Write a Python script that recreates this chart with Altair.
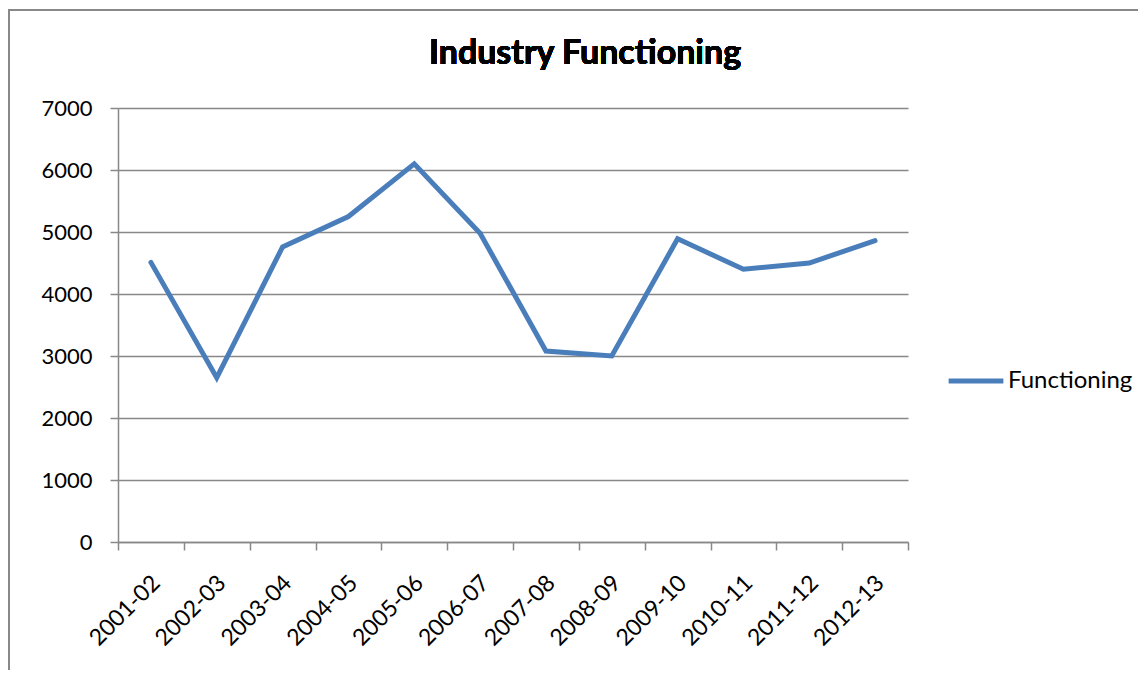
import altair as alt
import pandas as pd

years = ["2001-02", "2002-03", "2003-04", "2004-05", "2005-06", "2006-07",
         "2007-08", "2008-09", "2009-10", "2010-11", "2011-12", "2012-13"]
functioning = [4510, 2650, 4760, 5250, 6100, 4980, 3080, 3000, 4890, 4400, 4500, 4860]
title_text = "Industry Functioning"

df = pd.DataFrame({"year": years, "value": functioning, "series": ["Functioning"] * len(years)})

FONT = "Lato"
GRAY = "#888888"
BLUE = "#4a7ebb"

xscale = alt.Scale(domain=years, paddingInner=0, paddingOuter=0)

line = alt.Chart(df).mark_line(strokeWidth=5, strokeCap="round", strokeJoin="miter").encode(
    x=alt.X("year:N", sort=years, scale=xscale, title=None,
            axis=alt.Axis(orient="bottom", labelAngle=-45, labelAlign="right", labelBaseline="middle",
                          labelFont=FONT, labelFontSize=23, labelColor="#000000",
                          labelPadding=29, labelOffset=5, tickBand="extent", tickSize=8,
                          tickColor=GRAY, tickWidth=1.5, domainColor=GRAY, domainWidth=1.5,
                          grid=False)),
    y=alt.Y("value:Q", scale=alt.Scale(domain=[0, 7000]), title=None,
            axis=alt.Axis(values=[0, 1000, 2000, 3000, 4000, 5000, 6000, 7000], format="d",
                          labelFont=FONT, labelFontSize=22, labelColor="#000000",
                          labelPadding=18, tickSize=8, tickColor=GRAY, tickWidth=1.5,
                          domainColor=GRAY, domainWidth=1.5,
                          grid=True, gridColor=GRAY, gridWidth=1.5)),
    color=alt.Color("series:N", scale=alt.Scale(domain=["Functioning"], range=[BLUE]),
                    legend=alt.Legend(title=None, orient="none", legendX=828, legendY=243,
                                      symbolType="stroke", symbolSize=3000,
                                      symbolStrokeWidth=5, labelFont=FONT,
                                      labelFontSize=24, labelColor="#000000",
                                      labelOffset=2)),
)

frame = alt.Chart(df).mark_rect(fill=None, stroke=GRAY, strokeWidth=2).encode(
    x=alt.value(-109), x2=alt.value(1500), y=alt.value(-98), y2=alt.value(1000)
)

title = alt.Chart(df).mark_text(font=FONT, fontSize=34, fontWeight="bold", color="#000000",
                                align="center", baseline="middle").encode(
    x=alt.value(467), y=alt.value(-54), text=alt.datum(title_text)
)

chart = alt.layer(frame, line, title).properties(
    width=790, height=434,
    autosize=alt.AutoSizeParams(type="none"),
    padding={"left": 110, "top": 100, "right": 230, "bottom": 128},
).configure_view(stroke=None)

chart.save("out.html", embed_options={"renderer": "svg", "actions": False})
